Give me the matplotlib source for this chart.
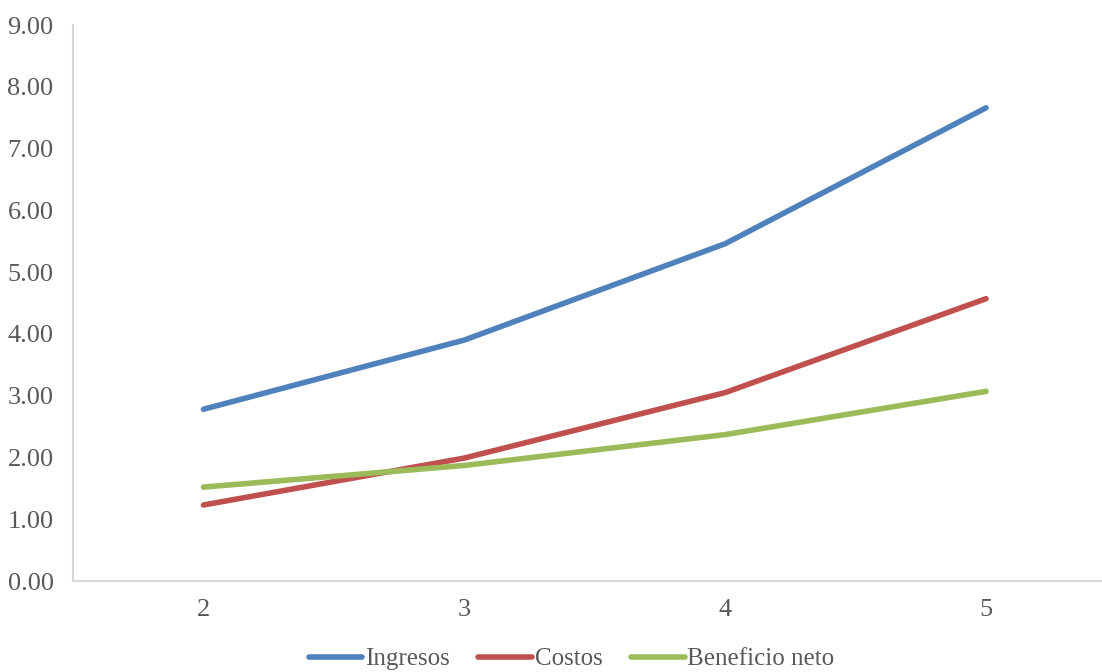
import numpy as np
import matplotlib
matplotlib.use('Agg')
import matplotlib.pyplot as plt

# Datos por periodo
periodos = [2, 3, 4, 5]
ingresos = [2.78, 3.90, 5.46, 7.66]
costos = [1.23, 1.99, 3.05, 4.57]
beneficio = [1.52, 1.87, 2.37, 3.07]

plt.rcParams['font.family'] = ['Liberation Serif', 'DejaVu Serif']
gris = '#595959'

fig = plt.figure(figsize=(11.02, 6.72), dpi=100)
ax = fig.add_axes([73/1102, 1-581/672, (1116.5-73)/1102, (581-25)/672])

x = np.arange(len(periodos))
ax.plot(x, ingresos, color='#4F81BD', lw=4, solid_capstyle='round', label='Ingresos')
ax.plot(x, costos, color='#C0504D', lw=4, solid_capstyle='round', label='Costos')
ax.plot(x, beneficio, color='#9BBB59', lw=4, solid_capstyle='round', label='Beneficio neto')

ax.set_xlim(-0.5, len(periodos) - 0.5)
ax.set_ylim(0, 9)
ax.set_xticks(x)
ax.set_xticklabels([str(p) for p in periodos])
ax.set_yticks(np.arange(0, 10, 1))
ax.set_yticklabels(['%.2f' % v for v in np.arange(0, 10, 1)])
ax.tick_params(axis='both', length=0, labelsize=19, colors=gris)
ax.tick_params(axis='y', pad=14)
ax.tick_params(axis='x', pad=13)

for s in ['top', 'right']:
    ax.spines[s].set_visible(False)
for s in ['left', 'bottom']:
    ax.spines[s].set_color('#D9D9D9')
    ax.spines[s].set_linewidth(1.5)

fig.legend(loc='center', bbox_to_anchor=(571.5/1102, 1-659/672), ncol=3,
           frameon=False, fontsize=18, handlelength=2.15, handletextpad=0.1,
           columnspacing=1.15, labelcolor=gris)

plt.savefig('out.png', dpi=100)
